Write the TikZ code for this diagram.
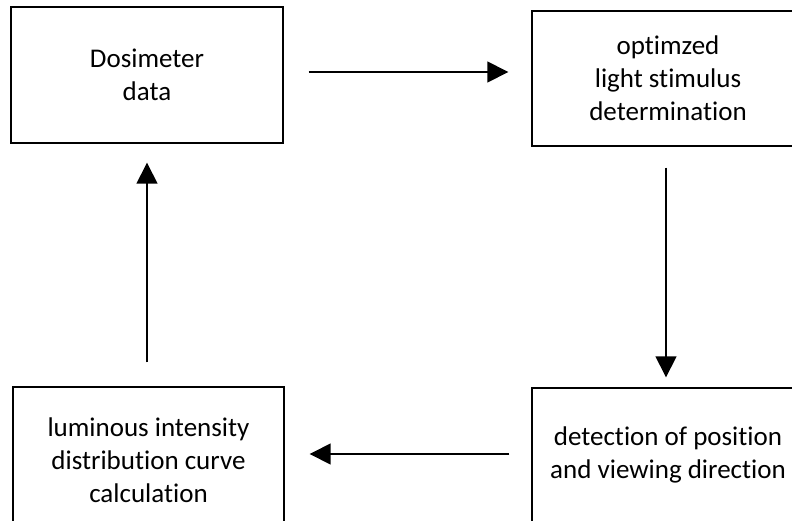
\documentclass[tikz,border=0pt]{standalone}
\usepackage{fontspec}
\setmainfont{Carlito}[Ligatures=NoCommon]
\usetikzlibrary{arrows.meta}
\begin{document}
\begin{tikzpicture}[x=1pt,y=-1pt,
  box/.style={draw=black, line width=1.4pt, fill=white, inner sep=0pt,
    minimum width=272pt, align=center, font=\fontsize{27}{33}\selectfont},
  label text/.style={inner sep=0pt, align=center, font=\fontsize{27}{33}\selectfont},
  arr/.style={draw=black, line width=1.5pt, -{Triangle[length=21pt,width=21pt]}}]
\useasboundingbox (0,0) rectangle (792,520);
\clip (0,0) rectangle (792,520);
\node[box, minimum height=136pt] (b1) at (147,75) {Dosimeter\\data};
\node[box, minimum height=135pt] (b2) at (668,78.5) {optimzed\\light stimulus\\determination};
\node[box, minimum height=146pt, minimum width=271pt] (b3) at (148.5,460) {luminous intensity\\distribution curve\\calculation};
\node[box, minimum height=140pt] (b4) at (668,458) {};
\node[label text] (t4) at (668,455) {detection of position\\and viewing direction};
\draw[arr, shorten <=25pt, shorten >=23pt] ([yshift=3pt]b1.east) -- ([yshift=3pt]b1.east -| b2.west);
\draw[arr, shorten <=21pt, shorten >=10pt] ([xshift=-2pt]b2.south) -- ([xshift=-2pt]b4.north);
\draw[arr, shorten <=22pt, shorten >=25pt] ([yshift=4pt]b4.west) -- ([yshift=4pt]b4.west -| b3.east);
\draw[arr, shorten <=24pt, shorten >=19pt] (b1.south |- b3.north) -- (b1.south);
\end{tikzpicture}
\end{document}
